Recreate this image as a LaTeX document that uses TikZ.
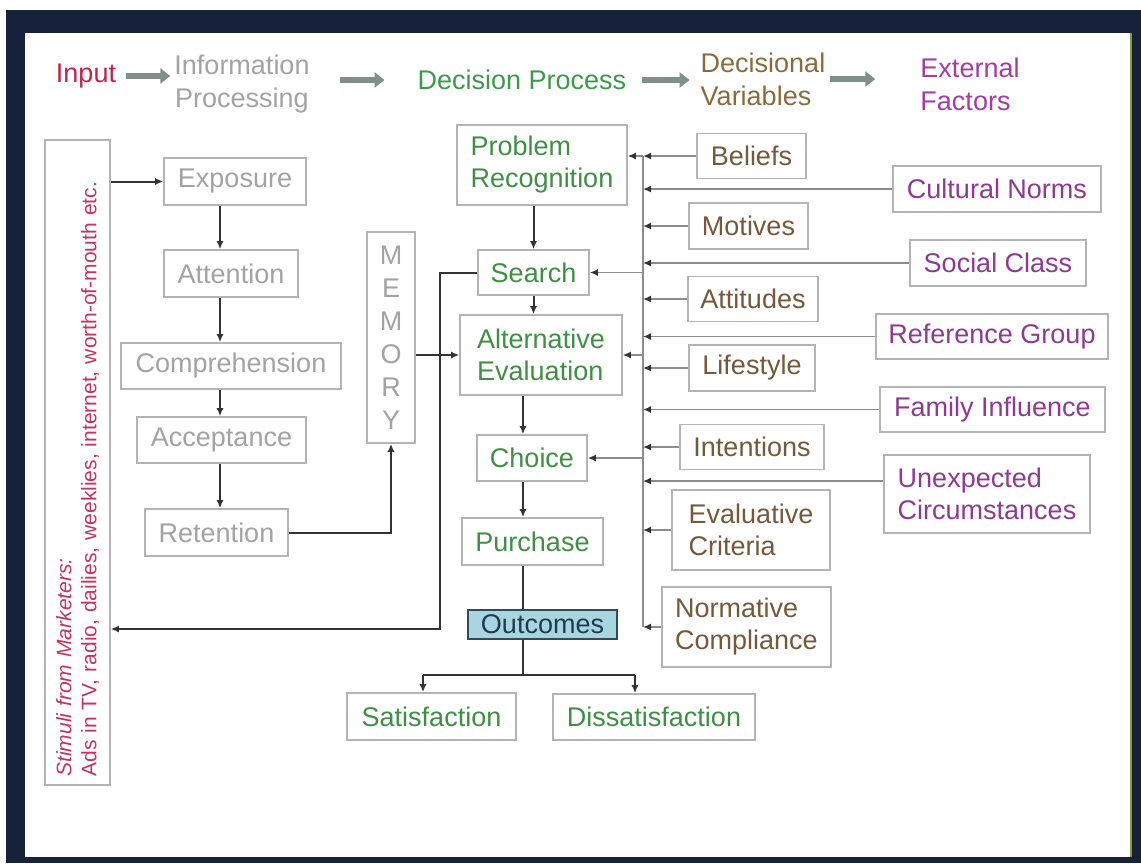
\documentclass[tikz,border=0pt]{standalone}
\usepackage{fontspec}
\setmainfont{Liberation Sans}
\usetikzlibrary{arrows.meta}
\definecolor{framedark}{HTML}{16223A}
\definecolor{frameolive}{HTML}{8A9A3A}
\definecolor{inred}{HTML}{C2244C}
\definecolor{stimred}{HTML}{C8325F}
\definecolor{ipgray}{HTML}{A3A3A3}
\definecolor{hgreen}{HTML}{3B9A4B}
\definecolor{dpgreen}{HTML}{3F8F45}
\definecolor{hbrown}{HTML}{8B6B3E}
\definecolor{dvbrown}{HTML}{74593A}
\definecolor{hpurple}{HTML}{A43CA6}
\definecolor{efpurple}{HTML}{8E3A92}
\definecolor{boxgray}{HTML}{B4B4B4}
\definecolor{linedark}{HTML}{333333}
\definecolor{vgray}{HTML}{8C8C8C}
\definecolor{hdrarrow}{HTML}{7E8F8C}
\definecolor{outfill}{HTML}{A8D5DF}
\definecolor{outborder}{HTML}{2D4D5D}
\definecolor{outtext}{HTML}{1D3D4D}
\begin{document}
\begin{tikzpicture}[x=1pt,y=-1pt,
  box/.style={draw=boxgray, line width=1.6pt, inner sep=0pt, font=\fontsize{27}{32}\selectfont},
  bx/.style 2 args={minimum width=#1pt, minimum height=#2pt},
  ip/.style={text=ipgray},
  dp/.style={text=dpgreen},
  dv/.style={text=dvbrown},
  ef/.style={text=efpurple},
  htext/.style={inner sep=0pt, font=\fontsize{27}{33}\selectfont},
  hdr/.style={draw=hdrarrow, line width=5.5pt, -{Triangle[length=10pt,width=15pt]}},
  arr/.style={draw=linedark, line width=2pt, -{Latex[length=8pt,width=7pt]}},
  plainline/.style={draw=linedark, line width=2pt},
  bus/.style={draw=vgray, line width=1.6pt},
  varr/.style={draw=vgray, line width=1.6pt, -{Latex[length=8pt,width=7pt,color=linedark]}}
]
\useasboundingbox (0,0) rectangle (1141,863);
\fill[white] (0,0) rectangle (1141,863);
\fill[framedark] (6,10) rectangle (1141,863);
\fill[white] (25,33) rectangle (1131,857);
\draw[frameolive, line width=1.5pt] (1131,33) -- (1131,857);

% header
\node[htext, text=inred] (input) at (86,76) {Input};
\node[htext, text=ipgray, align=center] (info) at (242,84) {Information\\Processing};
\node[htext, text=hgreen] (dproc) at (522,80) {Decision Process};
\node[htext, text=hbrown, align=left] (dvar) at (763,79) {Decisional\\Variables};
\node[htext, text=hpurple, align=left] (efac) at (970,84) {External\\Factors};
\draw[hdr, shorten <=10pt, shorten >=4pt] (input.east) -- (input.east -| info.west);
\draw[hdr, shorten <=30pt, shorten >=33pt] (dproc.west -| info.east) -- (dproc.west);
\draw[hdr, shorten <=16pt, shorten >=11pt] (dproc.east) -- (dproc.east -| dvar.west);
\draw[hdr, shorten <=5pt, shorten >=45pt] (dvar.east) -- (dvar.east -| efac.west);

% stimuli
\node[box, bx={65}{645}] (stim) at (77.5,462.5) {};
\node[rotate=90, text width=628pt, align=left, inner sep=0pt, text=stimred,
      font=\fontsize{21}{25}\selectfont] (stimtext) at (stim.center)
      {\textit{Stimuli from Marketers:}\\Ads in TV, radio, dailies, weeklies, internet, worth-of-mouth etc.};

% information processing
\node[box, ip, bx={142}{47}] (exposure) at (235,181.5) {Exposure};
\node[box, ip, bx={134}{47}] (attention) at (231,273.5) {Attention};
\node[box, ip, bx={220}{46}] (comprehension) at (231,366) {Comprehension};
\node[box, ip, bx={169}{46}] (acceptance) at (221.5,440) {Acceptance};
\node[box, ip, bx={143}{47}] (retention) at (216.5,532.5) {Retention};
\node[box, ip, bx={48}{211}, align=center, font=\fontsize{27}{33}\selectfont] (memory) at (391,337.5) {M\\E\\M\\O\\R\\Y};

% decision process
\node[box, dp, bx={170}{80}, align=left] (prob) at (542,165) {Problem\\Recognition};
\node[box, dp, bx={111}{45}] (search) at (533.5,272.5) {Search};
\node[box, dp, bx={162}{80}, align=left] (alteval) at (541,355) {Alternative\\Evaluation};
\node[box, dp, bx={110}{46}] (choice) at (532,458) {Choice};
\node[box, dp, bx={141}{47}] (purchase) at (532.5,541.5) {Purchase};
\node[box, bx={149}{29}, draw=outborder, fill=outfill, text=outtext] (outcomes) at (542.5,624.5) {Outcomes};
\node[box, dp, bx={169}{47}] (satis) at (431.5,716.5) {Satisfaction};
\node[box, dp, bx={202}{46}] (dissat) at (654,717) {Dissatisfaction};

% decisional variables and external factors
\node[box, dv, bx={109}{45}] (beliefs) at (751.5,156) {Beliefs};
\node[box, ef, bx={208}{46}] (cultural) at (997,189) {Cultural Norms};
\node[box, dv, bx={119}{46}] (motives) at (748.5,226) {Motives};
\node[box, ef, bx={176}{46}] (social) at (998,263) {Social Class};
\node[box, dv, bx={130}{45}] (attitudes) at (753,299) {Attitudes};
\node[box, ef, bx={232}{45}] (refgroup) at (992,336.5) {Reference Group};
\node[box, dv, bx={126}{46}] (lifestyle) at (752,368) {Lifestyle};
\node[box, ef, bx={225}{45}] (family) at (992.5,409.5) {Family Influence};
\node[box, dv, bx={144}{45}] (intentions) at (752,447) {Intentions};
\node[box, ef, bx={206}{78}, align=left] (unexp) at (987,494) {Unexpected\\Circumstances};
\node[box, dv, bx={158}{80}, align=left] (evalcrit) at (751,530) {Evaluative\\Criteria};
\node[box, dv, bx={169}{80}, align=left] (normcomp) at (746.5,627) {Normative\\Compliance};

% information processing connectors
\coordinate (ipx) at (220,0);
\draw[arr] (exposure.west -| stim.east) -- (exposure.west);
\draw[arr] (exposure.south -| ipx) -- (attention.north -| ipx);
\draw[arr] (attention.south -| ipx) -- (comprehension.north -| ipx);
\draw[arr] (comprehension.south -| ipx) -- (acceptance.north -| ipx);
\draw[arr] (acceptance.south -| ipx) -- (retention.north -| ipx);
\draw[arr] (retention.east) -| (memory.south);
\draw[arr] (alteval.west -| memory.east) -- (alteval.west);
\coordinate (fb) at (440,629);
\draw[arr] (search.west) -| (fb) -- (fb -| stim.east);

% decision process connectors
\coordinate (dx) at (523,0);
\draw[arr] (prob.south -| search.north) -- (search.north);
\draw[arr] (search.south) -- (search.south |- alteval.north);
\draw[arr] (alteval.south -| dx) -- (choice.north -| dx);
\draw[arr] (choice.south -| dx) -- (purchase.north -| dx);
\draw[plainline] (purchase.south -| dx) -- (outcomes.north -| dx);
\coordinate (sl) at (423,675);
\coordinate (sr) at (635,675);
\draw[plainline] (outcomes.south -| dx) -- (sl -| dx);
\draw[plainline] (sl) -- (sr);
\draw[arr] (sl) -- (sl |- satis.north);
\draw[arr] (sr) -- (sr |- dissat.north);

% bus on the right
\coordinate (bustop) at (643,156);
\coordinate (busbot) at (643,627);
\draw[bus] (bustop) -- (busbot);
\draw[varr] (bustop) -- (bustop -| prob.east);
\draw[varr] (search.east -| bustop) -- (search.east);
\draw[varr] (alteval.east -| bustop) -- (alteval.east);
\draw[varr] (choice.east -| bustop) -- (choice.east);
\foreach \n in {beliefs,cultural,motives,social,attitudes,refgroup,lifestyle,family,intentions,evalcrit,normcomp}
  \draw[varr] (\n.west) -- (\n.west -| bustop);
\draw[varr] ([yshift=13pt]unexp.west) -- ([yshift=13pt]unexp.west -| bustop);
\end{tikzpicture}
\end{document}
